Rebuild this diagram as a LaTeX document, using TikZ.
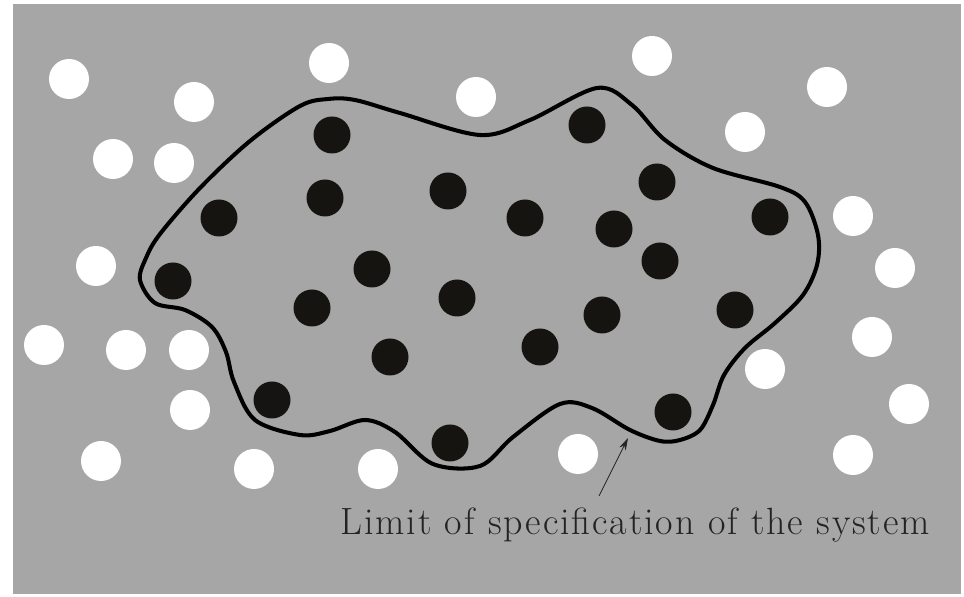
\documentclass[tikz,border=0pt]{standalone}
\usepackage{fontspec}
\usepackage{xcolor}
\usepackage{tikz}
\usetikzlibrary{arrows.meta, positioning}
\newfontfamily\captionfont{Latin Modern Roman}[LetterSpace=5]
\definecolor{platebg}{RGB}{166, 166, 166}
\definecolor{insidedot}{RGB}{22, 20, 16}
\definecolor{labelink}{RGB}{35, 35, 35}

\begin{document}
\begin{tikzpicture}[x=0.02cm, y=-0.02cm]
    \useasboundingbox (0,0) rectangle (964,597);
    % GRAY PLATE
    \fill[platebg] (13,4) rectangle (961,594);
    % WHITE PARTICLES (outside the system)
    \foreach \x/\y in {69/79, 194/102, 329/63, 476/97, 652/56, 827/87,
                       745/132, 113/159, 174/163, 853/216, 96/266, 895/268,
                       44/345, 126/350, 189/350, 872/337, 765/369, 190/410,
                       909/404, 101/461, 254/469, 378/469, 578/454, 853/455}
        \fill[white] (\x,\y) circle (20);
    % BLACK PARTICLES (inside the system)
    \foreach \x/\y in {332/135, 587/125, 219/218, 325/198, 448/191, 525/218,
                       614/229, 657/182, 770/217, 660/261, 173/281, 372/269,
                       312/308, 457/298, 602/315, 735/310, 540/347, 390/357,
                       272/400, 673/412, 450/443}
        \fill[insidedot] (\x,\y) circle (18.5);
    % BOUNDARY (limit of the system)
    \draw[line width=2.3pt, black] plot[smooth cycle, tension=0.55] coordinates {
        (140,280) (146,258) (160,234) (200,188) (250,141) (300,106)
        (328,99) (355,100) (400,113) (480,135) (530,120) (597,88)
        (632,105) (665,140) (713,168) (780,187) (805,202) (818,235)
        (817,265) (803,295) (775,323) (745,348) (724,375) (713,405)
        (700,430) (680,440) (660,441) (630,430) (592,408) (560,404)
        (513,437) (480,466) (433,464) (395,432) (365,420) (330,431)
        (300,435) (255,420) (234,382) (226,352) (212,327) (185,310)
        (155,303)};
    % Label and pointer
    \node[labelink, anchor=base west, inner sep=0pt] (limit) at (340,535)
        {\captionfont\fontsize{21.6}{24}\selectfont Limit of specification of the system};
    \coordinate (tail) at (599,496);
    \coordinate (tip) at (628,438);
    \draw[-{Stealth[length=7pt, width=4pt]}, labelink, thin] (tail) -- (tip);
\end{tikzpicture}
\end{document}
